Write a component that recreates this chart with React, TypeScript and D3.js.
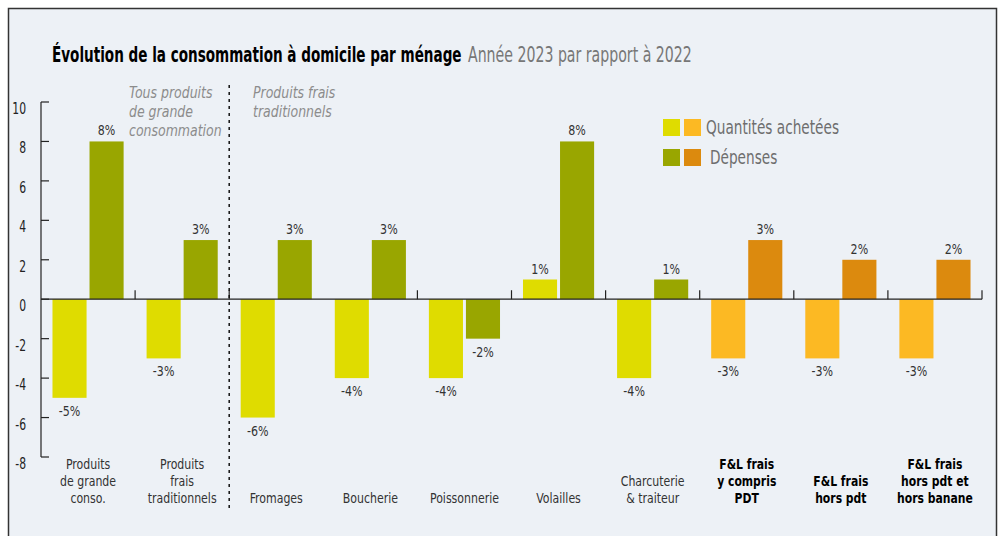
import React, { useEffect, useRef } from 'react';
import * as d3 from 'd3';

// Categories (multi-line labels split on |)
const categories = [
  'Produits|de grande|conso.',
  'Produits|frais|traditionnels',
  'Fromages',
  'Boucherie',
  'Poissonnerie',
  'Volailles',
  'Charcuterie|& traiteur',
  'F&L frais|y compris|PDT',
  'F&L frais|hors pdt',
  'F&L frais|hors pdt et|hors banane',
];
const quantites = [-5, -3, -6, -4, -4, 1, -4, -3, -3, -3];
const depenses = [8, 3, 3, 3, -2, 8, 1, 3, 2, 2];
const boldCats = [7, 8, 9];
const yTicks = [-8, -6, -4, -2, 0, 2, 4, 6, 8, 10];

const FONT = "'DejaVu Sans Condensed', 'DejaVu Sans', sans-serif";

type Sel = d3.Selection<any, unknown, null, undefined>;

// condensed text: horizontally squeezed around its anchor point
const ctext = (parent: Sel, x: number, y: number, s: string, sx: number, size: number, opts: any = {}) => {
  const t = parent.append('text')
    .attr('transform', `translate(${x},${y}) scale(${sx},1)`)
    .attr('text-anchor', opts.anchor || 'start')
    .style('font-family', FONT).style('font-size', `${size}px`)
    .attr('fill', opts.fill || '#333')
    .text(s);
  if (opts.bold) t.attr('font-weight', 'bold');
  if (opts.italic) t.style('font-style', 'italic');
  return t;
};

// squeeze a text so it spans a given width
const fitText = (t: any, x: number, y: number, w: number) => {
  const len = (t.node() as SVGTextElement).getComputedTextLength();
  t.attr('transform', `translate(${x},${y}) scale(${w / len},1)`);
};

const App = () => {
  const ref = useRef<SVGSVGElement>(null);

  useEffect(() => {
    const svg = d3.select(ref.current) as Sel;
    svg.selectAll('*').remove();

    // frame
    svg.append('rect')
      .attr('x', 8.5).attr('y', 8.5).attr('width', 988).attr('height', 540)
      .attr('fill', '#edf1f6').attr('stroke', '#333').attr('stroke-width', 1.5);

    // title
    const t1 = ctext(svg, 52, 62, 'Évolution de la consommation à domicile par ménage', 1, 21, { bold: true, fill: '#000' });
    fitText(t1, 52, 62, 410);
    const t2 = ctext(svg, 468, 62, 'Année 2023 par rapport à 2022', 1, 21, { fill: '#777' });
    fitText(t2, 468, 62, 224);

    const x = d3.scaleBand().domain(categories).range([41, 982]);
    const xSub = d3.scaleBand().domain(['q', 'd']).range([0, x.bandwidth()])
      .paddingInner(0.08).paddingOuter(0.31);
    const y = d3.scaleLinear().domain([-8, 10]).range([457, 102]);

    const colQ = (i: number) => (i >= 7 ? '#fcb923' : '#dfdc00');
    const colD = (i: number) => (i >= 7 ? '#dc8a0e' : '#99a600');

    const g = svg.append('g');
    const rows = categories.map((c, i) => ({ c, i, q: quantites[i], d: depenses[i] }));

    const drawBars = (key: 'q' | 'd', color: (i: number) => string) => {
      g.selectAll(`.bar-${key}`)
        .data(rows)
        .enter()
        .append('rect')
        .attr('x', d => (x(d.c) as number) + (xSub(key) as number))
        .attr('width', xSub.bandwidth())
        .attr('y', d => y(Math.max(0, d[key])))
        .attr('height', d => Math.abs(y(d[key]) - y(0)))
        .attr('fill', d => color(d.i));

      rows.forEach(d => {
        const v = d[key];
        const cx = (x(d.c) as number) + (xSub(key) as number) + xSub.bandwidth() / 2;
        ctext(g, cx, v >= 0 ? y(v) - 6 : y(v) + 18, `${v}%`, 0.88, 14, { anchor: 'middle' });
      });
    };
    drawBars('q', colQ);
    drawBars('d', colD);

    // y axis
    const axis = svg.append('g').attr('stroke', '#222').attr('stroke-width', 1.2);
    axis.append('line').attr('x1', 41).attr('x2', 41).attr('y1', y(10)).attr('y2', y(-8));
    yTicks.forEach(t => {
      axis.append('line').attr('x1', 41).attr('x2', 49).attr('y1', y(t)).attr('y2', y(t));
      ctext(svg, 26, y(t) + 12, String(t), 0.8, 15, { anchor: 'end', fill: '#222' });
    });

    // zero line + category ticks
    axis.append('line').attr('x1', 41).attr('x2', 982).attr('y1', y(0)).attr('y2', y(0));
    categories.forEach((c, i) => {
      if (i === 2) return;
      const xe = (x(c) as number) + x.bandwidth();
      axis.append('line').attr('x1', xe).attr('x2', xe).attr('y1', y(0)).attr('y2', y(0) - 9);
    });

    // dashed separator
    const sep = x(categories[2]) as number;
    svg.append('line')
      .attr('x1', sep).attr('x2', sep).attr('y1', 85).attr('y2', 509)
      .attr('stroke', '#111').attr('stroke-width', 1.5).attr('stroke-dasharray', '3,4');

    // group annotations
    const ann = (lines: string[], xx: number) => {
      lines.forEach((l, k) => {
        ctext(svg, xx, 98 + k * 19, l, 0.87, 16, { italic: true, fill: '#8c8c8c' });
      });
    };
    ann(['Tous produits', 'de grande', 'consommation'], 129);
    ann(['Produits frais', 'traditionnels'], 253);

    // category labels, bottom aligned
    categories.forEach((c, i) => {
      const lines = c.split('|');
      const cx = (x(c) as number) + x.bandwidth() / 2;
      const b = boldCats.includes(i);
      lines.forEach((l, k) => {
        ctext(svg, cx, 503 - (lines.length - 1 - k) * 17, l, b ? 0.86 : 0.87, 14,
          { anchor: 'middle', bold: b, fill: b ? '#000' : '#333' });
      });
    });

    // legend
    const legend = [
      { label: 'Quantités achetées', colors: ['#dfdc00', '#fcb923'], yy: 119, tx: 706 },
      { label: 'Dépenses', colors: ['#99a600', '#dc8a0e'], yy: 149, tx: 710 },
    ];
    legend.forEach(l => {
      l.colors.forEach((c, k) => {
        svg.append('rect').attr('x', 663 + k * 21).attr('y', l.yy).attr('width', 17).attr('height', 17).attr('fill', c);
      });
      ctext(svg, l.tx, l.yy + 15, l.label, 0.8, 19, { fill: '#6e6e6e' });
    });
  }, []);

  return (
    <svg ref={ref} width={1005} height={536}
      style={{ position: 'absolute', left: 0, top: 0, display: 'block' }} />
  );
};

export default App;
